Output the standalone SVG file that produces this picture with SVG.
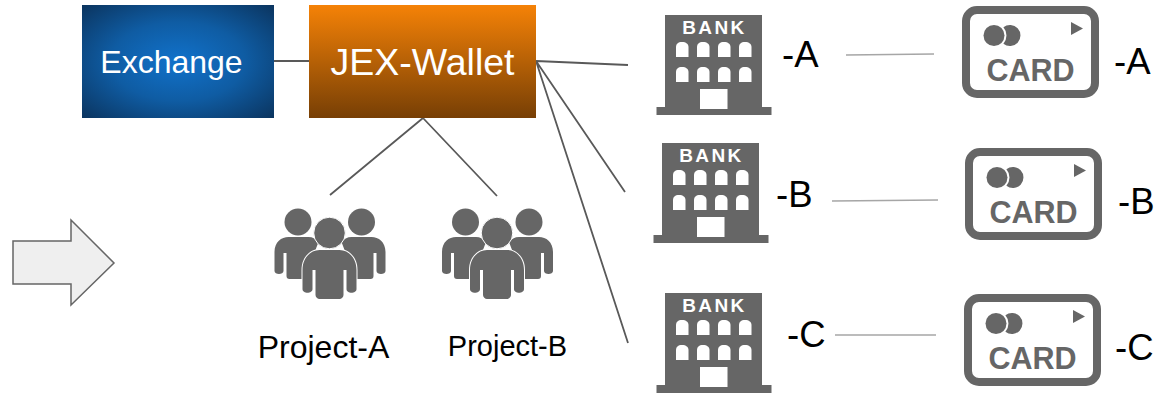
<svg xmlns="http://www.w3.org/2000/svg" width="1161" height="393" viewBox="0 0 1161 393">
<style>
.lbl{font-family:"Liberation Sans",Arial,sans-serif;fill:#000}
.wt{font-family:"Liberation Sans",Arial,sans-serif;fill:#fff;text-anchor:middle}
.ln{stroke:#595959;stroke-width:1.8;fill:none}
.lg{stroke:#a6a6a6;stroke-width:1.5;fill:none}
.ic{fill:#666}
</style>
<defs>
<radialGradient id="blue" cx="50%" cy="50%" r="70%"><stop offset="0" stop-color="#1172cb"/><stop offset=".5" stop-color="#0f5ca3"/><stop offset="1" stop-color="#0b3560"/></radialGradient>
<linearGradient id="orange" x1="0" y1="0" x2="0" y2="1"><stop offset="0" stop-color="#f58207"/><stop offset="1" stop-color="#773f05"/></linearGradient>
<g id="bank">
<path class="ic" d="M9 0H106V92H115.500V100H0.500V92H9Z"/>
<g fill="#fff">
<path id="w" d="M20 42V32C20 29 22 27 26 27C30 27 32.500 29 32.500 32V42Z"/>
<use href="#w" x="21"/><use href="#w" x="42"/><use href="#w" x="63"/>
<use href="#w" y="25"/><use href="#w" x="21" y="25"/><use href="#w" x="42" y="25"/><use href="#w" x="63" y="25"/>
<rect x="44" y="74" width="27.500" height="20"/>
<text x="58.500" y="19" font-family="'Liberation Sans',Arial,sans-serif" font-weight="700" font-size="19" letter-spacing="2.400" text-anchor="middle">BANK</text>
</g>
</g>
<g id="card">
<rect x="4" y="4" width="129" height="84" rx="11" fill="#fff" stroke="#666" stroke-width="8"/>
<circle cx="32" cy="29.500" r="10.500" class="ic"/>
<path class="ic" d="M41.400 21.300A10.500 10.500 0 1 1 41.400 37.700A12.500 12.500 0 0 0 41.400 21.300Z"/>
<path class="ic" d="M109 16L121 22.500L109 29Z"/>
<text x="68.500" y="74.500" font-family="'Liberation Sans',Arial,sans-serif" font-weight="700" font-size="30.500" fill="#666" text-anchor="middle">CARD</text>
</g>
<g id="people">
<circle cx="23.500" cy="14" r="13.500" class="ic"/>
<circle cx="87" cy="14" r="13.500" class="ic"/>
<path class="ic" d="M0 44C0 34 7 29 14 29H34C38 29 42 31 44 34L30 71H15C13 71 12 70 12 68V45H9V63C9 67 0 67 0 63Z"/>
<path class="ic" d="M111 44C111 34 104 29 97 29H77C73 29 69 31 67 34L81 71H96C98 71 99 70 99 68V45H102V63C102 67 111 67 111 63Z"/>
<circle cx="55" cy="25" r="15.800" class="ic" stroke="#fff" stroke-width="1"/>
<path fill="#fff" d="M27 62C27 49 36 41 45 41H65C74 41 83 49 83 62V72H27Z"/>
<path class="ic" d="M28 62C28 50 36 42 45 42H65C74 42 82 50 82 62V81C82 86 72 86 72 81V62H69V87C69 89 67 91 65 91H45C43 91 41 89 41 87V62H38V81C38 86 28 86 28 81Z"/>
</g>
</defs>
<g id="connectors">
<path class="ln" d="M274 61H309"/>
<path class="ln" d="M536 61L628 65M536 61L625 192M536 61L628 343"/>
<path class="ln" d="M423 118L330 195M423 118L497 196"/>
<path class="lg" d="M846 55L934 54M832 201L938 200M835 335L936 335"/>
</g>
<g id="exchange"><rect x="82" y="5" width="192" height="113" fill="url(#blue)"/><text class="wt" x="171.500" y="73" font-size="32">Exchange</text></g>
<g id="jex-wallet"><rect x="309" y="5" width="227" height="113" fill="url(#orange)"/><text class="wt" x="422.500" y="75" font-size="37.500">JEX-Wallet</text></g>
<g id="arrow"><path d="M13 241H71V220L114 263L71 305V284H13Z" fill="#efefef" stroke="#666" stroke-width="1.500"/></g>
<g id="project-a"><use href="#people" x="274.500" y="208"/><text class="lbl" x="323.500" y="358" font-size="32" text-anchor="middle">Project-A</text></g>
<g id="project-b"><use href="#people" x="442" y="208"/><text class="lbl" x="507.500" y="356" font-size="29" text-anchor="middle">Project-B</text></g>
<g id="bank-a"><use href="#bank" x="656" y="15"/><text class="lbl" x="782" y="67" font-size="36.500">-A</text></g>
<g id="bank-b"><use href="#bank" x="653" y="143"/><text class="lbl" x="776" y="207" font-size="36.500">-B</text></g>
<g id="bank-c"><use href="#bank" x="656" y="293"/><text class="lbl" x="787" y="347" font-size="36.500">-C</text></g>
<g id="card-a"><use href="#card" x="962" y="6"/><text class="lbl" x="1114" y="74" font-size="36.500">-A</text></g>
<g id="card-b"><use href="#card" x="965" y="148"/><text class="lbl" x="1118" y="214" font-size="36.500">-B</text></g>
<g id="card-c"><use href="#card" x="964" y="294"/><text class="lbl" x="1115" y="360" font-size="36.500">-C</text></g>
</svg>
